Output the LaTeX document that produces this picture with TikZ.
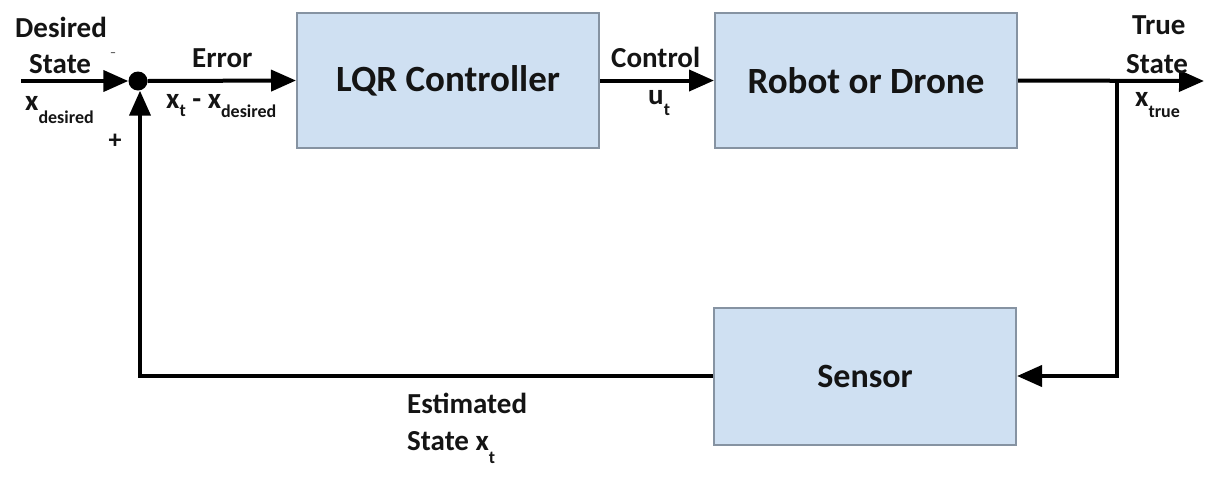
\documentclass[tikz,border=0pt]{standalone}
\usepackage{fontspec}
\setmainfont{Carlito}
\usetikzlibrary{arrows.meta}
\definecolor{boxfill}{HTML}{CFE0F2}
\definecolor{boxline}{HTML}{8693A2}
\definecolor{ink}{HTML}{141414}
% lowered subscript in text font
\newcommand\lowsub[2][10pt]{\raisebox{-#1}{\fontsize{18}{18}\selectfont #2}}
\begin{document}
\begin{tikzpicture}[x=1pt,y=-1pt,
  block/.style={draw=boxline, line width=2pt, fill=boxfill,
    minimum width=302pt, minimum height=135pt, inner sep=0pt,
    font=\fontsize{37}{40}\selectfont\bfseries, text=ink},
  lbl/.style={font=\fontsize{29}{32}\selectfont\bfseries, text=ink,
    inner sep=0pt, anchor=base west},
  sig/.style={line width=4pt, black},
  tip/.style={-{Triangle[length=25pt,width=21pt]}}
]
\useasboundingbox (0,0) rectangle (1206,477);

% blocks
\node[block] (lqr)    at (448,80.5)  {LQR Controller};
\node[block] (robot)  at (866,80.5)  {Robot or Drone};
\node[block, minimum height=137pt, font=\fontsize{34}{36}\selectfont\bfseries]
  (sensor) at (865,376.5) {Sensor};

% summing junction
\node[circle, fill=black, minimum size=19pt, inner sep=0pt] (sum) at (138,81) {};

% end points and corners
\coordinate (in)    at (21,81);
\coordinate (out)   at (1204,81);
\coordinate (split) at (1117,81);
\coordinate (rc)    at (1117,376);
\coordinate (lc)    at (140,376);

% signal paths
\draw[sig, tip] (in) -- (sum.west);
\draw[sig, tip] (sum.east) -- (lqr.west);
\draw[sig, tip] (lqr.east) -- (robot.west);
\draw[sig, tip] (robot.east) -- (out);
\draw[sig, tip] (split) -- (rc) -- (sensor.east |- rc);
\draw[sig, tip] (sensor.west |- lc) -- (lc) -- (sum.south -| lc);

% labels
\node[lbl] (des1) at (15,37)  {Desired};
\node[lbl] (des2) at (29,73)  {State};
\node[lbl] (des3) at (25,110) {x\lowsub[13pt]{desired}};
\node[font=\fontsize{12}{12}\selectfont\bfseries, text=ink!70] (minus) at (113,55) {--};
\node[font=\fontsize{26}{26}\selectfont\bfseries, text=ink] (plus) at (115,141) {+};

\node[lbl] (err1) at (192,67)  {Error};
\node[lbl] (err2) at (166,108) {x\lowsub[8pt]{t} - x\lowsub[9pt]{desired}};

\node[lbl] (ctl1) at (611,67)  {Control};
\node[lbl] (ctl2) at (648,104) {u\lowsub[11pt]{t}};

\node[lbl] (tru1) at (1132,34) {True};
\node[lbl] (tru2) at (1126,73) {State};
\node[lbl] (tru3) at (1135,106) {x\lowsub[11pt]{true}};

\node[lbl] (est1) at (407,413) {Estimated};
\node[lbl] (est2) at (407,450) {State x\lowsub[13pt]{t}};
\end{tikzpicture}
\end{document}
